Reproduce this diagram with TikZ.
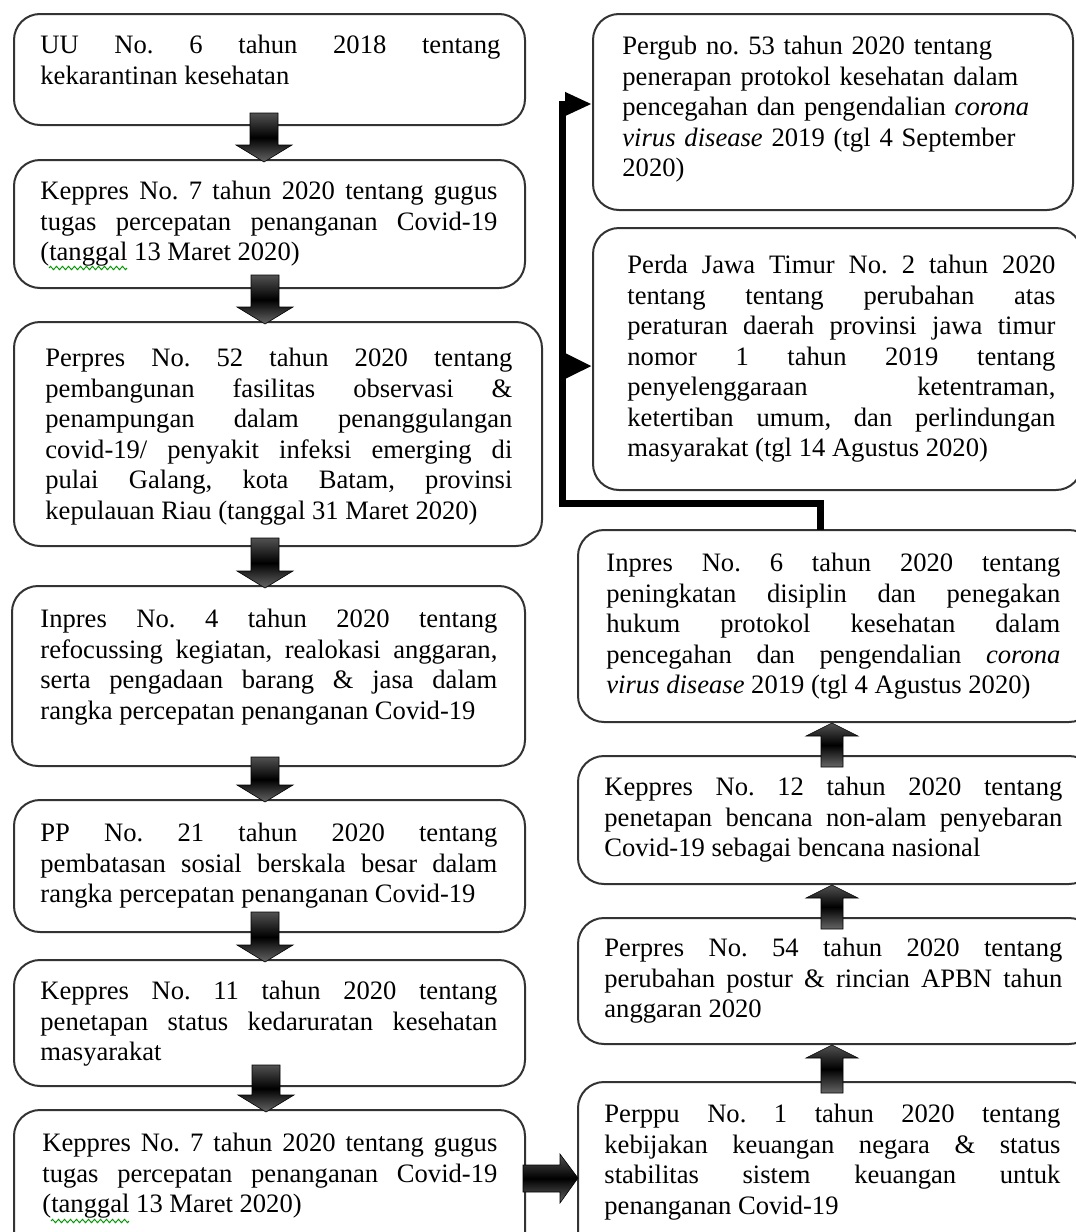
\documentclass[tikz,border=0pt]{standalone}
\usepackage{fontspec}
\setmainfont{Liberation Serif}
\usetikzlibrary{fit,arrows.meta,decorations.pathmorphing}
\newcommand\blkdn[3]{\path[blk] ({#1-14},#2) -- ({#1+14},#2) -- ({#1+14},{#3-17}) -- ({#1+28},{#3-17}) -- (#1,#3) -- ({#1-28},{#3-17}) -- ({#1-14},{#3-17}) -- cycle;}
\newcommand\blkup[3]{\path[blk] ({#1-11},#2) -- ({#1+11},#2) -- ({#1+11},{#3+13}) -- ({#1+26},{#3+13}) -- (#1,#3) -- ({#1-26},{#3+13}) -- ({#1-11},{#3+13}) -- cycle;}
\begin{document}
\begin{tikzpicture}[x=0.5pt,y=-0.5pt,
  box/.style={draw=black!80, line width=1pt, rounded corners=13pt, fill=white, inner sep=0pt},
  txt/.style={anchor=north west, inner sep=0pt, align=justify,
    font={\fontsize{13.3}{15.25}\selectfont\frenchspacing\tolerance=10000\relax\hyphenpenalty=10000\relax\exhyphenpenalty=10000\relax}},
  blk/.style={draw=black, line width=0.3pt, top color=black!68, bottom color=black!60, middle color=black},
  conn/.style={line width=3.5pt, black},
  squig/.style={draw=green!60!black, line width=0.5pt, decorate, decoration={zigzag, amplitude=0.8pt, segment length=3pt}}
]
\useasboundingbox (0,0) rectangle (1076,1232);
\clip (0,0) rectangle (1076,1232);
% left column boxes
\node[box, fit={(14,14) (525,125)}] (b1) {};
\node[box, fit={(14,160) (525,288)}] (b2) {};
\node[box, fit={(14,322) (542,546)}] (b3) {};
\node[box, fit={(12,586) (525,766)}] (b4) {};
\node[box, fit={(14,800) (525,932)}] (b5) {};
\node[box, fit={(14,960) (525,1086)}] (b6) {};
\node[box, fit={(14,1110) (525,1260)}] (b7) {};
% right column boxes
\node[box, fit={(593,14) (1073,210)}] (r1) {};
\node[box, fit={(593,228) (1082,490)}] (r2) {};
\node[box, fit={(578,530) (1095,722)}] (r3) {};
\node[box, fit={(578,756) (1095,884)}] (r4) {};
\node[box, fit={(578,918) (1095,1044)}] (r5) {};
\node[box, fit={(578,1082) (1095,1260)}] (r6) {};
% texts left
\node[txt, text width=230pt] (t1) at (40,35) {UU No. 6 tahun 2018 tentang\linebreak kekarantinan kesehatan};
\node[txt, text width=228.5pt] (t2) at (40,181) {Keppres No. 7 tahun 2020 tentang gugus\linebreak tugas percepatan penanganan Covid-19\linebreak (tanggal 13 Maret 2020)};
\node[txt, text width=233.5pt] (t3) at (45,348) {Perpres No. 52 tahun 2020 tentang\linebreak pembangunan fasilitas observasi \&\linebreak penampungan dalam penanggulangan\linebreak covid-19/ penyakit infeksi emerging di\linebreak pulai Galang, kota Batam, provinsi\linebreak kepulauan Riau (tanggal 31 Maret 2020)};
\node[txt, text width=228.5pt] (t4) at (40,609) {Inpres No. 4 tahun 2020 tentang\linebreak refocussing kegiatan, realokasi anggaran,\linebreak serta pengadaan barang \& jasa dalam\linebreak rangka percepatan penanganan Covid-19};
\node[txt, text width=228.5pt] (t5) at (40,823) {PP No. 21 tahun 2020 tentang\linebreak pembatasan sosial berskala besar dalam\linebreak rangka percepatan penanganan Covid-19};
\node[txt, text width=228.5pt] (t6) at (40,981) {Keppres No. 11 tahun 2020 tentang\linebreak penetapan status kedaruratan kesehatan\linebreak masyarakat};
\node[txt, text width=227.5pt] (t7) at (42,1133) {Keppres No. 7 tahun 2020 tentang gugus\linebreak tugas percepatan penanganan Covid-19\linebreak (tanggal 13 Maret 2020)};
% spell-check squiggles under "tanggal"
\draw[squig] (49,268) -- (127,268);
\draw[squig] (51,1221) -- (129,1221);
% texts right
\node[txt, align=left, text width=220pt] (s1) at (622,36) {Pergub no. 53 tahun 2020 tentang\\ penerapan protokol kesehatan dalam\\ pencegahan dan pengendalian \textit{corona}\\ \textit{virus disease} 2019 (tgl 4 September\\ 2020)};
\node[txt, text width=214pt] (s2) at (627,255) {Perda Jawa Timur No. 2 tahun 2020\linebreak tentang tentang perubahan atas\linebreak peraturan daerah provinsi jawa timur\linebreak nomor 1 tahun 2019 tentang\linebreak penyelenggaraan ketentraman,\linebreak ketertiban umum, dan perlindungan\linebreak masyarakat (tgl 14 Agustus 2020)};
\node[txt, text width=227pt] (s3) at (606,553) {Inpres No. 6 tahun 2020 tentang\linebreak peningkatan disiplin dan penegakan\linebreak hukum protokol kesehatan dalam\linebreak pencegahan dan pengendalian \textit{corona}\linebreak \textit{virus disease} 2019 (tgl 4 Agustus 2020)};
\node[txt, text width=229pt] (s4) at (604,777) {Keppres No. 12 tahun 2020 tentang\linebreak penetapan bencana non-alam penyebaran\linebreak Covid-19 sebagai bencana nasional};
\node[txt, text width=229pt] (s5) at (604,938) {Perpres No. 54 tahun 2020 tentang\linebreak perubahan postur \& rincian APBN tahun\linebreak anggaran 2020};
\node[txt, text width=228pt] (s6) at (604,1104) {Perppu No. 1 tahun 2020 tentang\linebreak kebijakan keuangan negara \& status\linebreak stabilitas sistem keuangan untuk\linebreak penanganan Covid-19};
% block arrows down (left column)
\blkdn{264}{113}{162}
\blkdn{265}{275}{324}
\blkdn{265}{538}{588}
\blkdn{265}{757}{802}
\blkdn{265}{912}{962}
\blkdn{266}{1065}{1112}
% block arrows up (right column)
\blkup{832}{767}{723}
\blkup{832}{929}{885}
\blkup{832}{1093}{1045}
% block arrow right
\path[blk] (523,1165) -- (560,1165) -- (560,1154) -- (578,1178) -- (560,1203) -- (560,1192) -- (523,1192) -- cycle;
% bent connector
\coordinate (j0) at (820,530);
\coordinate (j1) at (820,503);
\coordinate (j2) at (562,503);
\coordinate (j3) at (562,104);
\coordinate (j4) at (562,366);
\draw[conn, -{Triangle[length=13.5pt,width=11pt]}] (j0) -- (j1) -- (j2) -- (j3) -- (j3 -| r1.west);
\draw[conn, -{Triangle[length=13.5pt,width=12pt]}] (j4) -- (j4 -| r2.west);
\end{tikzpicture}
\end{document}
